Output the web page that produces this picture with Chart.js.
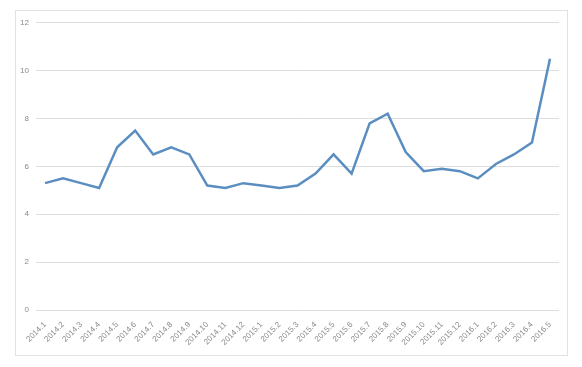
<!DOCTYPE html>
<html>
<head>
<meta charset="utf-8">
<script src="https://cdn.jsdelivr.net/npm/chart.js@4"></script>
<style>
    body { margin: 0; background: #fff; }
    #frame {
        position: absolute; left: 15px; top: 10px;
        width: 551px; height: 344px;
        border: 1px solid #e2e2e2;
    }
    canvas { display: block; }
</style>
</head>
<body>
<div id="frame"><canvas id="chart" width="551" height="344"></canvas></div>
<script>
// Month labels and monthly values
const months = [
    '2014.1', '2014.2', '2014.3', '2014.4', '2014.5', '2014.6', '2014.7', '2014.8', '2014.9', '2014.10',
    '2014.11', '2014.12', '2015.1', '2015.2', '2015.3', '2015.4', '2015.5', '2015.6', '2015.7', '2015.8',
    '2015.9', '2015.10', '2015.11', '2015.12', '2016.1', '2016.2', '2016.3', '2016.4', '2016.5'
];
const values = [
    5.3, 5.5, 5.3, 5.1, 6.8, 7.5, 6.5, 6.8, 6.5, 5.2,
    5.1, 5.3, 5.2, 5.1, 5.2, 5.7, 6.5, 5.7, 7.8, 8.2,
    6.6, 5.8, 5.9, 5.8, 5.5, 6.1, 6.5, 7.0, 10.5
];
const yTicks = [0, 2, 4, 6, 8, 10, 12];

const ctx = document.getElementById('chart').getContext('2d');
new Chart(ctx, {
    type: 'line',
    data: {
        labels: months,
        datasets: [{
            data: values,
            borderColor: '#5b8ec0',
            borderWidth: 2.5,
            pointRadius: 0,
            tension: 0,
            fill: false
        }]
    },
    options: {
        responsive: false,
        animation: false,
        layout: { padding: { left: 0, right: 8, top: 10, bottom: 0 } },
        plugins: { legend: { display: false }, tooltip: { enabled: false } },
        scales: {
            x: {
                offset: true,
                grid: { display: false },
                border: { display: false },
                ticks: {
                    color: '#8a8a8a',
                    font: { family: 'Liberation Sans', size: 8 },
                    minRotation: 45,
                    maxRotation: 45,
                    autoSkip: false,
                    padding: 2
                },
                afterFit: (s) => { s.height = 45; }
            },
            y: {
                min: yTicks[0],
                max: yTicks[yTicks.length - 1],
                afterBuildTicks: (s) => { s.ticks = yTicks.map(v => ({ value: v })); },
                grid: { color: '#dedede', drawTicks: false },
                border: { display: false },
                ticks: {
                    color: '#8a8a8a',
                    font: { family: 'Liberation Sans', size: 8 },
                    padding: 7
                },
                afterFit: (s) => { s.width = 20; }
            }
        }
    }
});
</script>
</body>
</html>
